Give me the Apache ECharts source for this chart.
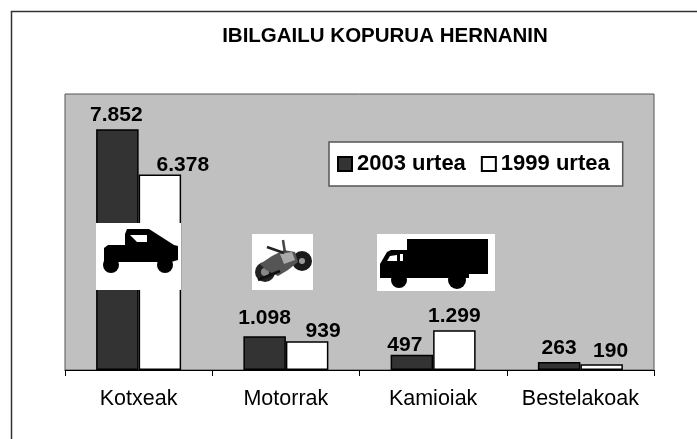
<!DOCTYPE html>
<html>
<head>
<meta charset="utf-8">
<style>
html, body { margin: 0; padding: 0; background: #fff; overflow: hidden; }
#chart { width: 697px; height: 439px; }
</style>
<script src="https://cdn.jsdelivr.net/npm/echarts@6/dist/echarts.min.js"></script>
</head>
<body>
<div id="chart"></div>
<script>
const categories = ["Kotxeak", "Motorrak", "Kamioiak", "Bestelakoak"];
const urtea2003 = [7852, 1098, 497, 263];
const urtea1999 = [6378, 939, 1299, 190];

// hand placed labels in the original, [dx, dy] from the default spot
const offsets2003 = [[-1, -2], [0, -6], [-7, 3], [0, -1]];
const offsets1999 = [[23, 3], [16, 2], [0, -1], [9, 0]];

const font = "'Liberation Sans', Arial, sans-serif";

function dotted(v) {
  return String(v).replace(/\B(?=(\d{3})+$)/g, ".");
}

const myChart = echarts.init(document.getElementById("chart"), null, { renderer: "canvas" });

// white picture with a silhouette on top, placed in page pixels
function icon(x, y, w, h, shapes) {
  const rect = { type: "rect", shape: { x: 0, y: 0, width: w, height: h }, style: { fill: "#fff" } };
  const children = [rect].concat(shapes);
  children.forEach((c, i) => { c.z = 20; c.zlevel = 0; c.z2 = i; });
  return { type: "group", x: x, y: y, z: 20, children: children };
}
function poly(points, fill) {
  return { type: "polygon", shape: { points: points }, style: { fill: fill || "#000" } };
}
function disc(cx, cy, r, fill) {
  return { type: "circle", shape: { cx: cx, cy: cy, r: r }, style: { fill: fill || "#000" } };
}
function stroke(x1, y1, x2, y2, color, w) {
  return { type: "line", shape: { x1: x1, y1: y1, x2: x2, y2: y2 }, style: { stroke: color, lineWidth: w } };
}

const car = icon(96, 223, 85, 67, [
  poly([[8, 25], [12, 22], [29, 22], [29, 11], [31, 6], [53, 6], [78, 22], [82, 23], [82, 37], [75, 39], [8, 39]]),
  disc(15, 42, 8),
  disc(69, 42, 8),
  poly([[34, 12], [51, 12], [51, 19], [41, 19]], "#fff")
]);

const moto = icon(252, 234, 61, 56, [
  disc(50, 27, 10, "#1a1a1a"),
  disc(50, 27, 3, "#999"),
  disc(13, 38, 10, "#222"),
  disc(13, 38, 4, "#888"),
  poly([[8, 30], [20, 22], [32, 16], [43, 18], [46, 28], [36, 36], [26, 42], [14, 36]], "#555"),
  poly([[28, 20], [40, 18], [43, 26], [32, 30]], "#aaa"),
  stroke(15, 13, 32, 19, "#222", 2.5),
  stroke(31, 6, 33, 19, "#444", 2.5),
  stroke(6, 46, 28, 37, "#111", 2.5)
]);

const truck = icon(377, 234, 118, 57, [
  poly([[30, 5], [111, 5], [111, 40], [92, 40], [92, 44], [3, 44], [3, 30], [10, 18], [14, 16], [30, 16]]),
  disc(22, 46, 8),
  disc(80, 46, 9),
  poly([[10, 27], [13, 22], [20, 21], [20, 27]], "#fff"),
  poly([[23, 20], [26, 20], [26, 27], [23, 27]], "#fff")
]);

function barSeries(name, values, offs) {
  return {
    name: name,
    type: "bar",
    data: values.map((v, i) => ({
      value: v,
      label: { offset: offs[i] }
    })),
    barWidth: 42.5,
    barGap: 0,
    itemStyle: { color: name === "2003 urtea" ? "#333333" : "#fff", borderColor: "#000", borderWidth: 1.5 },
    label: {
      show: true,
      position: "top",
      distance: 2,
      fontFamily: font,
      fontSize: 21,
      fontWeight: "bold",
      color: "#000",
      formatter: p => dotted(p.value)
    }
  };
}

const options = {
  animation: false,
  backgroundColor: "#fff",
  title: {
    text: "IBILGAILU KOPURUA HERNANIN",
    left: 380,
    top: 21,
    textAlign: "center",
    textStyle: { fontFamily: font, fontSize: 20.5, fontWeight: "bold", color: "#000" }
  },
  legend: {
    left: 329,
    top: 142,
    padding: [11, 13, 11, 8],
    itemGap: 15,
    itemWidth: 14,
    itemHeight: 14,
    icon: "rect",
    selectedMode: false,
    backgroundColor: "#fff",
    borderColor: "#555",
    borderWidth: 1.5,
    textStyle: { fontFamily: font, fontSize: 22, fontWeight: "bold", color: "#000" }
  },
  grid: {
    left: 65,
    right: 43,
    top: 94,
    bottom: 69,
    show: true,
    backgroundColor: "#c0c0c0",
    borderColor: "#555",
    borderWidth: 1
  },
  xAxis: {
    type: "category",
    data: categories,
    axisLine: { lineStyle: { color: "#000", width: 1 } },
    axisTick: { show: true, interval: 0, length: 6, lineStyle: { color: "#000" } },
    axisLabel: { interval: 0, fontFamily: font, fontSize: 21.5, color: "#000", margin: 18 }
  },
  yAxis: {
    type: "value",
    min: 0,
    max: 9000,
    interval: 9000,
    axisLine: { show: false },
    axisTick: { show: false },
    axisLabel: { show: false },
    splitLine: { show: false }
  },
  series: [
    barSeries("2003 urtea", urtea2003, offsets2003),
    barSeries("1999 urtea", urtea1999, offsets1999)
  ],
  graphic: [
    {
      type: "rect",
      z: -1,
      shape: { x: 11.5, y: 11.5, width: 700, height: 450 },
      style: { fill: "#fff", stroke: "#333", lineWidth: 1.5 }
    },
    car,
    moto,
    truck
  ]
};

myChart.setOption(options);
</script>
</body>
</html>
